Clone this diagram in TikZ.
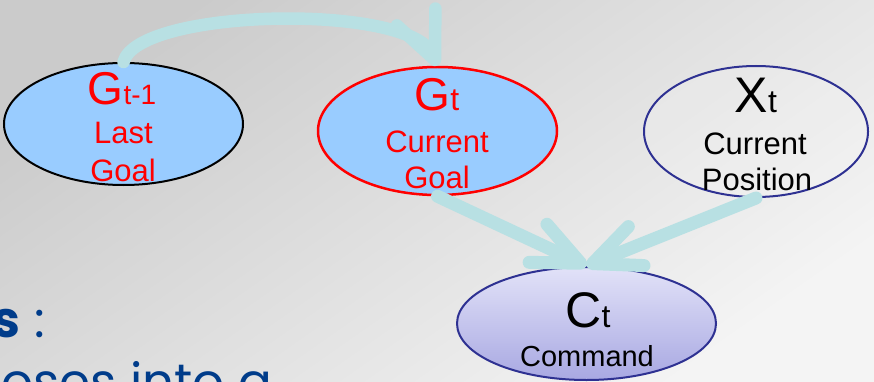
\documentclass[tikz,border=0pt]{standalone}
\usepackage{fontspec}
\setmainfont{Liberation Sans}
\newfontfamily\slidefont{Poppins}
\usetikzlibrary{shapes.geometric,arrows.meta}

\definecolor{goalblue}{HTML}{99CCFF}
\definecolor{navyline}{HTML}{2E3192}
\definecolor{linkcol}{HTML}{B8E0E3}
\definecolor{cmdtop}{HTML}{E2E2F8}
\definecolor{cmdbot}{HTML}{A8A8E2}
\definecolor{slidenavy}{HTML}{003C8A}
\definecolor{bgdark}{HTML}{CBCBCB}
\definecolor{bglight}{HTML}{F4F4F4}

\tikzset{
  ell/.style={ellipse, inner sep=0pt, line width=2pt},
  bigtxt/.style={anchor=base, inner sep=0pt},
  smalltxt/.style={anchor=base, inner sep=0pt, font=\fontsize{31}{31}\selectfont},
  link/.style={draw=linkcol, line width=#1, line cap=round,
    -{Straight Barb[length=47pt, width=42pt, round]},
    preaction={draw=black, draw opacity=0.08, transform canvas={shift={(2.5pt,-4.5pt)}}},
    preaction={draw=black, draw opacity=0.16, transform canvas={shift={(1.5pt,-2.5pt)}}}},
  link/.default=13pt
}

\begin{document}
\begin{tikzpicture}[x=1pt, y=-1pt]
  % slide background
  \useasboundingbox (0,0) rectangle (874,382);
  \shade[top color=bgdark, bottom color=bglight, shading angle=35]
    (0,0) rectangle (874,382);

  % slide body text behind the diagram
  \node[anchor=base east, inner sep=0pt, text=slidenavy,
        font=\slidefont\fontsize{50}{50}\selectfont] (head) at (45,337)
        {\bfseries s\mdseries\ :};
  \node[anchor=base east, inner sep=0pt, text=slidenavy,
        font=\slidefont\fontsize{50}{50}\selectfont] (body) at (272,399)
        {poses into a};

  % variables of the model
  \node[ell, draw=black, fill=goalblue, minimum width=239pt, minimum height=122pt]
    (g1) at (123.5,124) {};
  \node[ell, draw=red, fill=goalblue, line width=2.5pt,
        minimum width=239pt, minimum height=128pt]
    (gt) at (437.5,131) {};
  \node[ell, draw=navyline, fill=white, fill opacity=0.15,
        minimum width=224pt, minimum height=131pt]
    (xt) at (756,131.5) {};
  \node[ell, draw=navyline, top color=cmdtop, bottom color=cmdbot,
        minimum width=259pt, minimum height=113pt]
    (ct) at (586.5,323.5) {};

  % dependencies
  \draw[link=12.5pt] (g1.north) .. controls (138,8) and (410,3) .. (gt.north);
  \draw[link] (gt.south) -- (ct.north);
  \draw[link] (xt.south) -- (ct.north);

  % labels
  \node[bigtxt, text=red] (g1sym) at (122,105)
    {\fontsize{46}{46}\selectfont G\fontsize{28}{28}\selectfont t-1};
  \node[smalltxt, text=red] (g1a) at (123.5,144) {Last};
  \node[smalltxt, text=red] (g1b) at (123,182) {Goal};

  \node[bigtxt, text=red] (gtsym) at (437,111)
    {\fontsize{46}{46}\selectfont G\fontsize{32}{32}\selectfont t};
  \node[smalltxt, text=red] (gta) at (437,153) {Current};
  \node[smalltxt, text=red] (gtb) at (437,188) {Goal};

  \node[bigtxt] (xtsym) at (756,113)
    {\fontsize{50}{50}\selectfont X\fontsize{32}{32}\selectfont t};
  \node[smalltxt] (xta) at (755,155) {Current};
  \node[smalltxt] (xtb) at (757,190) {Position};

  \node[bigtxt] (ctsym) at (588,327)
    {\fontsize{50}{50}\selectfont C\fontsize{32}{32}\selectfont t};
  \node[smalltxt, font=\fontsize{29}{29}\selectfont] (cta) at (587,366) {Command};
\end{tikzpicture}
\end{document}
